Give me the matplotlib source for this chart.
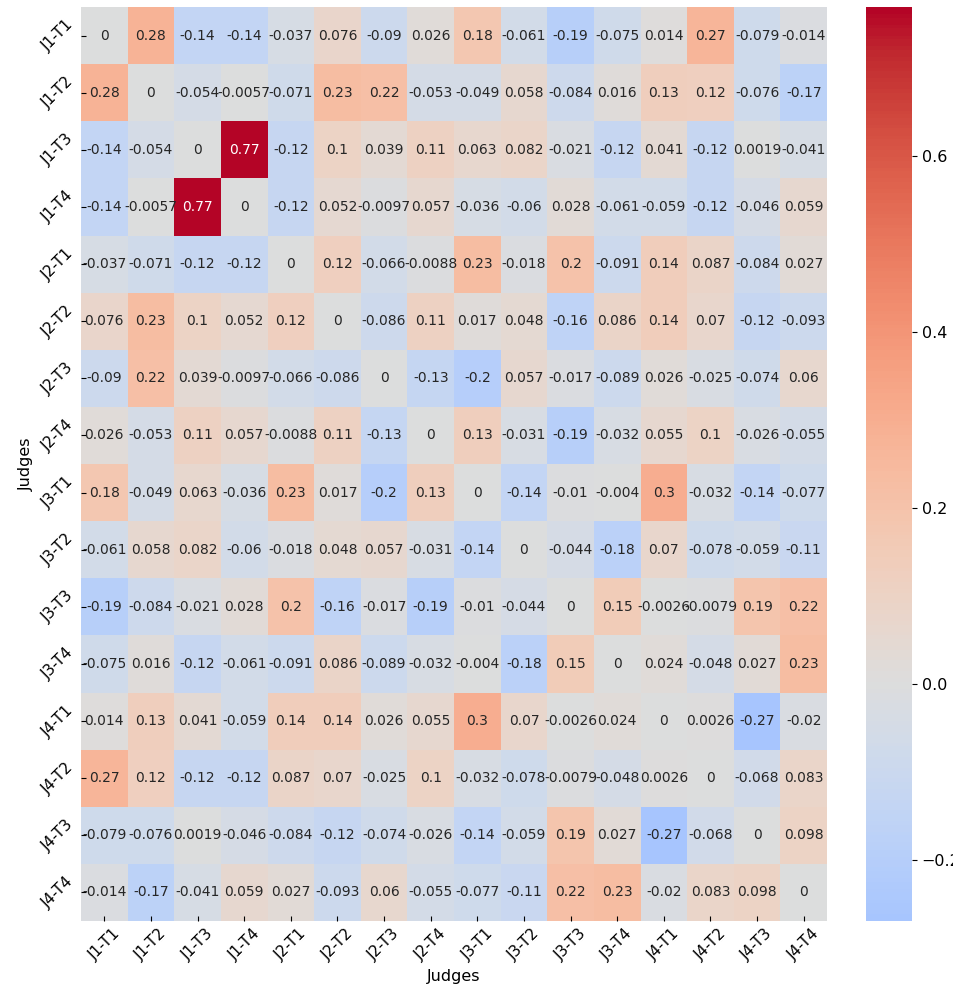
import numpy as np
import matplotlib
matplotlib.use("Agg")
import matplotlib.pyplot as plt
import seaborn as sns

judges = ["J1-T1", "J1-T2", "J1-T3", "J1-T4",
          "J2-T1", "J2-T2", "J2-T3", "J2-T4",
          "J3-T1", "J3-T2", "J3-T3", "J3-T4",
          "J4-T1", "J4-T2", "J4-T3", "J4-T4"]

# pairwise correlation between judge/task score series
row_j1_t1 = [0, 0.28, -0.14, -0.14, -0.037, 0.076, -0.09, 0.026, 0.18, -0.061, -0.19, -0.075, 0.014, 0.27, -0.079, -0.014]
row_j1_t2 = [0.28, 0, -0.054, -0.0057, -0.071, 0.23, 0.22, -0.053, -0.049, 0.058, -0.084, 0.016, 0.13, 0.12, -0.076, -0.17]
row_j1_t3 = [-0.14, -0.054, 0, 0.77, -0.12, 0.1, 0.039, 0.11, 0.063, 0.082, -0.021, -0.12, 0.041, -0.12, 0.0019, -0.041]
row_j1_t4 = [-0.14, -0.0057, 0.77, 0, -0.12, 0.052, -0.0097, 0.057, -0.036, -0.06, 0.028, -0.061, -0.059, -0.12, -0.046, 0.059]
row_j2_t1 = [-0.037, -0.071, -0.12, -0.12, 0, 0.12, -0.066, -0.0088, 0.23, -0.018, 0.2, -0.091, 0.14, 0.087, -0.084, 0.027]
row_j2_t2 = [0.076, 0.23, 0.1, 0.052, 0.12, 0, -0.086, 0.11, 0.017, 0.048, -0.16, 0.086, 0.14, 0.07, -0.12, -0.093]
row_j2_t3 = [-0.09, 0.22, 0.039, -0.0097, -0.066, -0.086, 0, -0.13, -0.2, 0.057, -0.017, -0.089, 0.026, -0.025, -0.074, 0.06]
row_j2_t4 = [0.026, -0.053, 0.11, 0.057, -0.0088, 0.11, -0.13, 0, 0.13, -0.031, -0.19, -0.032, 0.055, 0.1, -0.026, -0.055]
row_j3_t1 = [0.18, -0.049, 0.063, -0.036, 0.23, 0.017, -0.2, 0.13, 0, -0.14, -0.01, -0.004, 0.3, -0.032, -0.14, -0.077]
row_j3_t2 = [-0.061, 0.058, 0.082, -0.06, -0.018, 0.048, 0.057, -0.031, -0.14, 0, -0.044, -0.18, 0.07, -0.078, -0.059, -0.11]
row_j3_t3 = [-0.19, -0.084, -0.021, 0.028, 0.2, -0.16, -0.017, -0.19, -0.01, -0.044, 0, 0.15, -0.0026, -0.0079, 0.19, 0.22]
row_j3_t4 = [-0.075, 0.016, -0.12, -0.061, -0.091, 0.086, -0.089, -0.032, -0.004, -0.18, 0.15, 0, 0.024, -0.048, 0.027, 0.23]
row_j4_t1 = [0.014, 0.13, 0.041, -0.059, 0.14, 0.14, 0.026, 0.055, 0.3, 0.07, -0.0026, 0.024, 0, 0.0026, -0.27, -0.02]
row_j4_t2 = [0.27, 0.12, -0.12, -0.12, 0.087, 0.07, -0.025, 0.1, -0.032, -0.078, -0.0079, -0.048, 0.0026, 0, -0.068, 0.083]
row_j4_t3 = [-0.079, -0.076, 0.0019, -0.046, -0.084, -0.12, -0.074, -0.026, -0.14, -0.059, 0.19, 0.027, -0.27, -0.068, 0, 0.098]
row_j4_t4 = [-0.014, -0.17, -0.041, 0.059, 0.027, -0.093, 0.06, -0.055, -0.077, -0.11, 0.22, 0.23, -0.02, 0.083, 0.098, 0]

corr = np.array([row_j1_t1, row_j1_t2, row_j1_t3, row_j1_t4,
                 row_j2_t1, row_j2_t2, row_j2_t3, row_j2_t4,
                 row_j3_t1, row_j3_t2, row_j3_t3, row_j3_t4,
                 row_j4_t1, row_j4_t2, row_j4_t3, row_j4_t4])

fig = plt.figure(figsize=(9.54, 9.91), dpi=100)
ax = fig.add_axes([0.0849, 0.0706, 0.782, 0.9223])
cax = fig.add_axes([0.9078, 0.0706, 0.0482, 0.9223])

sns.heatmap(corr, ax=ax, cbar_ax=cax, cmap="coolwarm", center=0,
            annot=True, annot_kws={"fontsize": 10},
            xticklabels=judges, yticklabels=judges)

ax.tick_params(axis="both", direction="in", labelsize=11)
ax.set_xticklabels(judges, rotation=45, ha="center")
ax.set_yticklabels(judges, rotation=45, va="center")
ax.set_xlabel("Judges", fontsize=11.5)
ax.set_ylabel("Judges", fontsize=11.5)

cax.tick_params(labelsize=11.5)

fig.savefig("out.png", dpi=100)
